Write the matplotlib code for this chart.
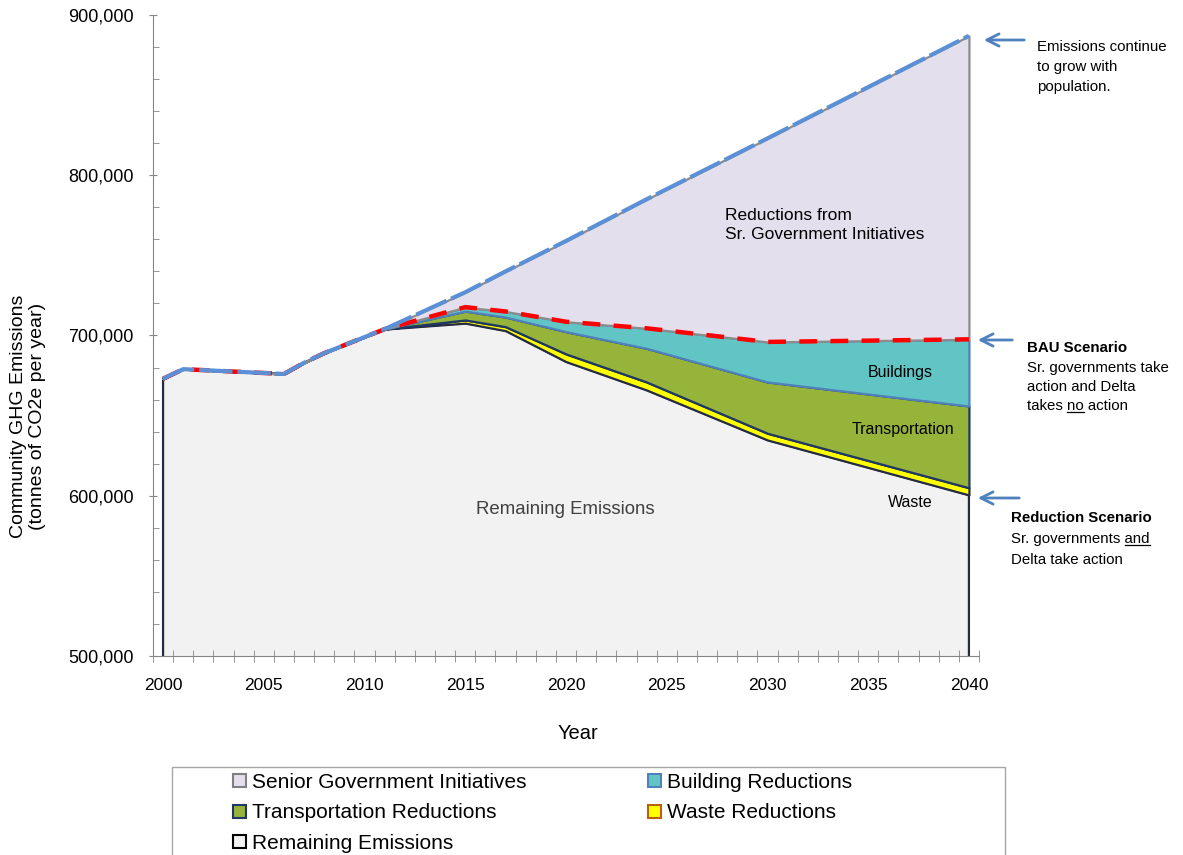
import numpy as np
import matplotlib.pyplot as plt
from matplotlib.patches import Patch, Rectangle, FancyArrowPatch
from matplotlib.lines import Line2D

plt.rcParams['font.family'] = ['Liberation Sans', 'DejaVu Sans']

years = [2000, 2001, 2006, 2007, 2008, 2009, 2010, 2011, 2015, 2017, 2020, 2024, 2030, 2040]
remaining = [673000, 679000, 676000, 683000, 689000, 694000, 699000, 704000,
             707700, 703000, 683700, 666000, 634800, 600500]
waste = [0, 0, 0, 0, 0, 0, 0, 0, 2000, 2500, 4800, 5000, 4200, 4500]
transport = [0, 0, 0, 0, 0, 0, 0, 0, 5500, 6000, 13900, 21000, 32000, 51000]
building = [0, 0, 0, 0, 0, 0, 0, 0, 2500, 3500, 6200, 12500, 25000, 41600]
senior = [0, 0, 0, 0, 0, 0, 0, 0, 9300, 25000, 50400, 80500, 127000, 189400]

labels = ['Remaining Emissions', 'Waste Reductions', 'Transportation Reductions',
          'Building Reductions', 'Senior Government Initiatives']
fills = ['#F2F2F2', '#FFFF00', '#97B43A', '#62C5C5', '#E4DFEC']
edges = ['#262B45', '#262B45', '#1F3864', '#4F81BD', '#8C8C8C']
legend_edges = ['#000000', '#B8620A', '#1F3864', '#4F81BD', '#808080']

W, H = 1183, 855
fig = plt.figure(figsize=(W / 100, H / 100), dpi=100)
ax = fig.add_axes([153 / W, 1 - 656 / H, (979 - 153) / W, (656 - 15) / H])

polys = ax.stackplot(years, remaining, waste, transport, building, senior, colors=fills)
for p, ec in zip(polys, edges):
    p.set_edgecolor(ec)
    p.set_linewidth(1.6)

bau = np.array(remaining) + np.array(waste) + np.array(transport) + np.array(building)
total = bau + np.array(senior)
ax.plot(years, bau, color='#FF0000', lw=3.2, dashes=(4, 3), zorder=4)
ax.plot(years, total, color='#5B8FD6', lw=3, dashes=(8, 1.2), zorder=5)

ax.set_xlim(1999.5, 2040.5)
ax.set_ylim(500000, 900000)
ax.set_xticks(range(2000, 2041, 5))
ax.set_xticks(np.arange(1999.5, 2041, 1), minor=True)
ax.set_yticks(range(500000, 900001, 100000))
ax.set_yticks(range(500000, 900001, 20000), minor=True)
ax.set_yticklabels(['{:,.0f}'.format(v) for v in range(500000, 900001, 100000)])
ax.tick_params(axis='x', which='major', length=0, pad=16, labelsize=12.5)
ax.tick_params(axis='x', which='minor', direction='inout', length=8, color='#868686')
ax.tick_params(axis='y', which='major', direction='inout', length=6, pad=11,
               labelsize=13, color='#868686')
ax.tick_params(axis='y', which='minor', direction='in', length=4, color='#868686')
for s in ['top', 'right']:
    ax.spines[s].set_visible(False)
for s in ['left', 'bottom']:
    ax.spines[s].set_color('#868686')

ax.text(2027.9, 769000, 'Reductions from\nSr. Government Initiatives',
        fontsize=12.5, ha='left', va='center', linespacing=1.3)
ax.text(2036.6, 676600, 'Buildings', fontsize=11.5, ha='center', va='center')
ax.text(2036.7, 641600, 'Transportation', fontsize=11.5, ha='center', va='center')
ax.text(2037.1, 596000, 'Waste', fontsize=11.5, ha='center', va='center')
ax.text(2019.95, 591700, 'Remaining Emissions', fontsize=13.4, color='#404040',
        ha='center', va='center')

fig.text(28 / W, 1 - 416 / H, 'Community GHG Emissions\n(tonnes of CO2e per year)',
         rotation=90, ha='center', va='center', fontsize=14, multialignment='center')
fig.text(578 / W, 1 - 733 / H, 'Year', ha='center', va='center', fontsize=14.5)

# arrows to the right-hand notes
arrow_kw = dict(arrowstyle='->', color='#4F81BD', lw=2, mutation_scale=22)
for tail, head in [((1027, 40), (981, 40)), ((1015, 340), (975, 340)),
                   ((1022, 498), (975, 498))]:
    fig.add_artist(FancyArrowPatch(
        (tail[0] / W, 1 - tail[1] / H), (head[0] / W, 1 - head[1] / H),
        transform=fig.transFigure, **arrow_kw))

renderer = fig.canvas.get_renderer()


def note(x, y, s, bold=False, under=None):
    fs = 10.8
    t = fig.text(x / W, 1 - y / H, s, fontsize=fs, va='baseline', ha='left',
                 fontweight='bold' if bold else 'normal')
    if under:
        i = s.index(under)
        m = fig.text(0, 0, s[:i] + under, fontsize=fs)
        w_all = m.get_window_extent(renderer).width
        m.set_text(under)
        w_word = m.get_window_extent(renderer).width
        m.remove()
        x1 = x + w_all - w_word
        fig.add_artist(Line2D([x1 / W, (x1 + w_word) / W], [1 - (y + 2) / H] * 2,
                              transform=fig.transFigure, color='black', lw=0.9))
    return t


note(1037, 51, 'Emissions continue')
note(1037, 71, 'to grow with')
note(1037, 91, 'population.')
note(1027, 352, 'BAU Scenario', bold=True)
note(1027, 372, 'Sr. governments take')
note(1027, 391, 'action and Delta')
note(1027, 410, 'takes no action', under='no')
note(1011, 522, 'Reduction Scenario', bold=True)
note(1011, 543, 'Sr. governments and', under='and')
note(1011, 564, 'Delta take action')

# legend
fig.patches.append(Rectangle((172 / W, -0.01), 833 / W, (855 - 767) / H + 0.01,
                             transform=fig.transFigure, figure=fig,
                             facecolor='white', edgecolor='#A6A6A6', lw=1))
handles = [Patch(facecolor=f, edgecolor=e, lw=1.5, label=l)
           for f, e, l in zip(fills, legend_edges, labels)]
order = [4, 2, 0, 3, 1]
fig.legend([handles[i] for i in order], [labels[i] for i in order],
           loc='upper left', bbox_to_anchor=(233 / W, 1 - 773 / H), ncol=2,
           frameon=False, fontsize=15, handlelength=0.6, handleheight=0.6,
           handletextpad=0.3, labelspacing=0.55, columnspacing=5.85, borderpad=0,
           borderaxespad=0)

fig.savefig('out.png', dpi=100)
